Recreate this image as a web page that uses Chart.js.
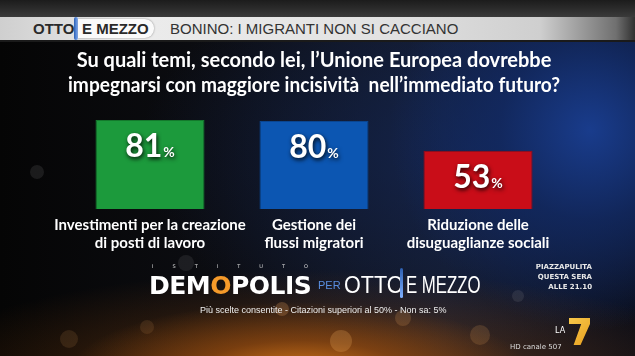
<!DOCTYPE html>
<html>
<head>
<meta charset="utf-8">
<script src="https://cdn.jsdelivr.net/npm/chart.js@4"></script>
<style>
  html,body{margin:0;padding:0;}
  body{width:635px;height:356px;overflow:hidden;position:relative;font-family:Lato,"Open Sans",sans-serif;
    background:
      radial-gradient(ellipse 230px 70px at 300px 372px, rgba(215,120,25,0.95) 0%, rgba(160,80,15,0.6) 45%, rgba(60,30,5,0) 100%),
      radial-gradient(ellipse 420px 110px at 320px 380px, rgba(120,60,10,0.7) 0%, rgba(50,25,5,0) 100%),
      radial-gradient(ellipse 200px 200px at 590px 130px, rgba(25,60,140,1) 0%, rgba(18,42,100,0.8) 45%, rgba(10,20,50,0) 100%),
      radial-gradient(ellipse 330px 200px at 470px 150px, rgba(20,40,90,0.7) 0%, rgba(10,20,45,0) 100%),
      linear-gradient(90deg,#050505 0%,#0c0d12 35%,#141a2a 70%,#0a0d18 100%);
  }
  #topbar{position:absolute;left:0;top:0;width:635px;height:17px;background:linear-gradient(180deg,#1c1c1c,#3a3a3a);}
  #strip{position:absolute;left:0;top:17px;width:635px;height:23px;
    background:linear-gradient(90deg,#cfcfcf 0%,#ececec 20%,#e2e2e2 60%,#cfcfcf 85%,#707070 97%,#303030 100%);
    border-bottom:2px solid #1a1a1a;}
  .hd{position:absolute;top:0;height:23px;line-height:23px;font-family:"Liberation Sans Narrow","Liberation Sans",sans-serif;font-weight:bold;color:#2a2a2a;white-space:nowrap;}
  #pill{position:absolute;left:78px;top:2px;width:76px;height:19px;background:#fafafa;border-radius:0 9px 9px 0;box-shadow:0 0 2px #888;}
  #sep{position:absolute;left:74px;top:0;width:4px;height:23px;background:linear-gradient(90deg,#2d5fb0,#7fb0ff);border-radius:2px;}
  .ft{position:absolute;color:#fff;white-space:nowrap;}
  canvas{position:absolute;left:0;top:0;}
  .bk{position:absolute;border-radius:50%;background:rgba(200,200,200,0.10);}
</style>
</head>
<body>
<div class="bk" style="left:30px;top:165px;width:14px;height:14px;background:rgba(180,180,180,0.12)"></div>
<div class="bk" style="left:178px;top:255px;width:16px;height:16px"></div>
<div class="bk" style="left:275px;top:302px;width:14px;height:14px;background:rgba(230,160,90,0.25)"></div>
<div class="bk" style="left:330px;top:330px;width:22px;height:22px;background:rgba(240,170,90,0.25)"></div>
<div class="bk" style="left:395px;top:310px;width:16px;height:16px;background:rgba(230,160,90,0.2)"></div>
<div class="bk" style="left:470px;top:325px;width:20px;height:20px;background:rgba(230,160,90,0.18)"></div>
<div class="bk" style="left:60px;top:330px;width:18px;height:18px;background:rgba(200,140,80,0.15)"></div>
<div class="bk" style="left:140px;top:320px;width:14px;height:14px;background:rgba(200,140,80,0.15)"></div>
<div class="bk" style="left:512px;top:290px;width:12px;height:12px;background:rgba(180,180,180,0.12)"></div>

<div id="topbar"></div>
<div id="strip">
  <div class="hd" style="left:33px;font-size:15px;">OTTO</div>
  <div id="sep"></div>
  <div id="pill"></div>
  <div class="hd" style="left:82px;font-size:15px;">E MEZZO</div>
  <div class="hd" style="left:170px;font-size:15px;font-weight:normal;color:#333;">BONINO: I MIGRANTI NON SI CACCIANO</div>
</div>

<canvas id="c" width="635" height="356"></canvas>

<div class="ft" style="left:152px;top:263px;font-size:5px;letter-spacing:19px;color:#ddd;font-family:'DejaVu Sans';">ISTITUTO</div>
<div class="ft" style="left:149px;top:271px;font-size:25px;font-weight:900;font-family:'DejaVu Sans';letter-spacing:-0.5px;">DEM<span style="color:#f59a2a">O</span>POLIS</div>
<div class="ft" style="left:318px;top:279px;font-size:11px;color:#5a8fe0;font-family:'Liberation Sans Narrow','Liberation Sans';">PER</div>
<div class="ft" style="left:344px;top:271px;font-size:24px;font-family:'Liberation Sans Narrow','Liberation Sans';transform:scaleX(0.9);transform-origin:left top;">OTTO</div>
<div class="ft" style="left:400px;top:268px;width:3px;height:30px;background:linear-gradient(180deg,#2d5fb0,#7fb0ff);border-radius:2px;"></div>
<div class="ft" style="left:406px;top:271px;font-size:24px;font-family:'Liberation Sans Narrow','Liberation Sans';transform:scaleX(0.7);transform-origin:left top;">E MEZZO</div>
<div class="ft" style="left:200px;top:305px;font-size:9px;font-family:'Liberation Sans Narrow','Liberation Sans';color:#eee;">Più scelte consentite - Citazioni superiori al 50% - Non sa: 5%</div>
<div class="ft" style="left:520px;top:262px;width:72px;text-align:right;font-size:7px;font-weight:bold;line-height:10px;font-family:'DejaVu Sans';color:#e8e8e8;">PIAZZAPULITA<br>QUESTA SERA<br>ALLE 21.10</div>
<div class="ft" style="left:555px;top:326px;font-size:8px;font-family:'DejaVu Sans';">LA</div>
<div class="ft" style="left:569px;top:318px;width:21px;height:27px;background:linear-gradient(135deg,#f7c84a,#e8a020);clip-path:polygon(0 0,100% 0,100% 22%,55% 100%,22% 100%,58% 22%,0 22%);"></div>
<div class="ft" style="left:510px;top:343px;font-size:7px;font-family:'DejaVu Sans';color:#ddd;">HD canale 507</div>

<script>
const titleLines = [
  "Su quali temi, secondo lei, l\u2019Unione Europea dovrebbe",
  "impegnarsi con maggiore incisivit\u00e0  nell\u2019immediato futuro?"
];
const categories = [
  ["Investimenti per la creazione", "di posti di lavoro"],
  ["Gestione dei", "flussi migratori"],
  ["Riduzione delle", "disuguaglianze sociali"]
];
const values = [81, 80, 53];
const barColors = ["#1c9a3c", "#0c56b2", "#c90d18"];
const borderColors = ["#137a2c", "#0a4590", "#9c0a12"];

const valueLabels = {
  id: "valueLabels",
  afterDatasetsDraw(chart) {
    const ctx = chart.ctx;
    const meta = chart.getDatasetMeta(0);
    meta.data.forEach((bar, i) => {
      const num = String(values[i]);
      ctx.save();
      ctx.font = "bold 32px Lato";
      const wNum = ctx.measureText(num).width;
      ctx.font = "bold 14px Lato";
      const wPct = ctx.measureText("%").width;
      const total = wNum + 1 + wPct;
      const x0 = bar.x - total / 2;
      const base = bar.y + 37;
      ctx.shadowColor = "rgba(0,0,0,0.9)";
      ctx.shadowBlur = 4;
      ctx.shadowOffsetX = 1;
      ctx.shadowOffsetY = 2;
      ctx.fillStyle = "#ffffff";
      ctx.textBaseline = "alphabetic";
      ctx.textAlign = "left";
      ctx.font = "bold 32px Lato";
      ctx.fillText(num, x0, base);
      ctx.font = "bold 14px Lato";
      ctx.fillText("%", x0 + wNum + 1, base);
      ctx.restore();
    });
  }
};

new Chart(document.getElementById("c"), {
  type: "bar",
  data: {
    labels: categories,
    datasets: [{
      data: values,
      backgroundColor: barColors,
      borderColor: borderColors,
      borderWidth: 1,
      barPercentage: 0.665,
      categoryPercentage: 1
    }]
  },
  options: {
    responsive: false,
    devicePixelRatio: 1,
    animation: false,
    layout: { padding: { left: 68, right: 75, top: 48, bottom: 97 } },
    plugins: {
      legend: { display: false },
      tooltip: { enabled: false },
      title: {
        display: true,
        text: titleLines,
        color: "#ffffff",
        font: { family: "Lato", weight: "bold", size: 20, lineHeight: 1.25 },
        padding: { top: 0, bottom: 1 }
      }
    },
    scales: {
      y: { display: false, min: 0, max: 100 },
      x: {
        grid: { display: false, drawTicks: false },
        border: { display: false },
        ticks: {
          color: "#ffffff",
          padding: 7,
          maxRotation: 0,
          autoSkip: false,
          font: { family: "Lato", weight: "bold", size: 15, lineHeight: 1.2 }
        }
      }
    }
  },
  plugins: [valueLabels]
});
</script>
</body>
</html>
